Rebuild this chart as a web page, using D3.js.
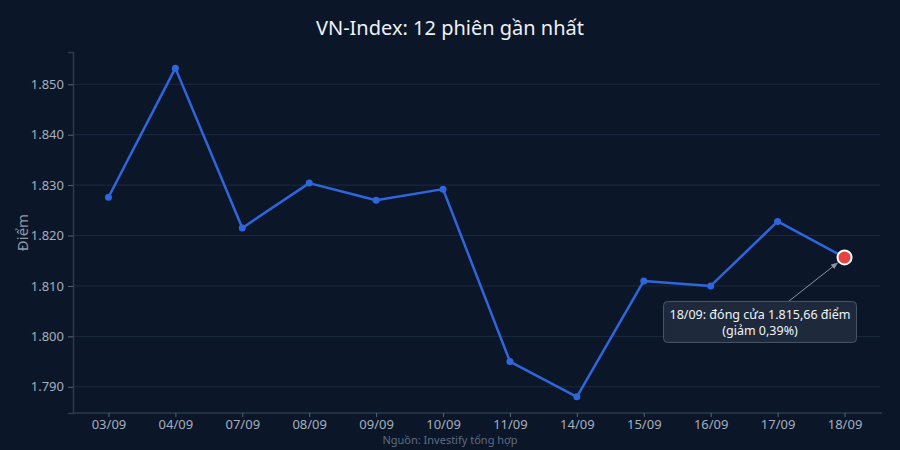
<!DOCTYPE html>
<html>
<head>
  <meta charset="utf-8" />
  <script src="https://cdn.jsdelivr.net/npm/d3@7"></script>
  <style>
    body {
      margin: 0;
      background-color: #0b1628;
    }
    text {
      font-family: "Noto Sans", "Open Sans", sans-serif;
    }
  </style>
</head>
<body>
  <script>
    // 12 phiên gần nhất
    var sessions = ["03/09", "04/09", "07/09", "08/09", "09/09", "10/09",
      "11/09", "14/09", "15/09", "16/09", "17/09", "18/09"];
    var closes = [1827.6, 1853.2, 1821.5, 1830.4, 1827.0, 1829.2,
      1795.0, 1788.0, 1811.0, 1810.0, 1822.8, 1815.66];
    var yTicks = [1790, 1800, 1810, 1820, 1830, 1840, 1850];
    var titleText = "VN-Index: 12 phiên gần nhất";
    var noteLines = ["18/09: đóng cửa 1.815,66 điểm", "(giảm 0,39%)"];
    var sourceText = "Nguồn: Investify tổng hợp";

    var width = 900, height = 450;
    var margin = { top: 52, right: 20, bottom: 37, left: 73 };

    var vn = d3.formatLocale({ decimal: ",", thousands: ".", grouping: [3], currency: ["", ""] });
    var fmt = vn.format(",.0f");

    var svg = d3.select("body").append("svg")
      .attr("width", width)
      .attr("height", height);

    var x = d3.scalePoint()
      .domain(sessions)
      .range([margin.left, width - margin.right])
      .padding(0.53);

    var y = d3.scaleLinear()
      .domain([1784.8, 1856.4])
      .range([height - margin.bottom, margin.top]);

    // grid
    svg.append("g")
      .selectAll("line")
      .data(yTicks)
      .enter()
      .append("line")
      .attr("x1", margin.left)
      .attr("x2", width - margin.right)
      .attr("y1", d => y(d))
      .attr("y2", d => y(d))
      .attr("stroke", "#1c2a40")
      .attr("stroke-width", 1);

    // y axis
    var yAxis = svg.append("g")
      .attr("transform", "translate(" + margin.left + ",0)")
      .call(d3.axisLeft(y).tickValues(yTicks).tickFormat(fmt).tickSize(5).tickPadding(4));

    // x axis
    var xAxis = svg.append("g")
      .attr("transform", "translate(0," + (height - margin.bottom) + ")")
      .call(d3.axisBottom(x).tickSize(4).tickPadding(3));

    [yAxis, xAxis].forEach(function(a) {
      a.select(".domain").attr("stroke", "#2c3b52").attr("stroke-width", 1.5);
      a.selectAll(".tick line").attr("stroke", "#56647a");
      a.selectAll(".tick text")
        .attr("fill", "#a4afbf")
        .style("font-size", "13px")
        .style("font-family", "'Noto Sans', sans-serif");
    });
    xAxis.select(".domain").attr("d", "M" + margin.left + ",0H" + (width - margin.right + 2));

    // y label
    svg.append("text")
      .attr("transform", "translate(28," + (height - margin.bottom + margin.top) / 2 + ") rotate(-90)")
      .attr("text-anchor", "middle")
      .attr("fill", "#8d98a8")
      .style("font-size", "15px")
      .text("Điểm");

    // line
    var pts = sessions.map((s, i) => [s, closes[i]]);
    var line = d3.line().x(d => x(d[0])).y(d => y(d[1]));

    svg.append("path")
      .datum(pts)
      .attr("fill", "none")
      .attr("stroke", "#2f66dd")
      .attr("stroke-width", 2.5)
      .attr("stroke-linejoin", "round")
      .attr("d", line);

    svg.append("g")
      .selectAll("circle")
      .data(pts.slice(0, -1))
      .enter()
      .append("circle")
      .attr("cx", d => x(d[0]))
      .attr("cy", d => y(d[1]))
      .attr("r", 3.5)
      .attr("fill", "#2f66dd");

    var last = pts[pts.length - 1];
    var lx = x(last[0]), ly = y(last[1]);

    // annotation arrow
    var defs = svg.append("defs");
    defs.append("marker")
      .attr("id", "arrow")
      .attr("viewBox", "0 0 10 10")
      .attr("refX", 9)
      .attr("refY", 5)
      .attr("markerWidth", 7)
      .attr("markerHeight", 7)
      .attr("orient", "auto")
      .append("path")
      .attr("d", "M0,1L10,5L0,9z")
      .attr("fill", "#8a94a3");

    var boxX = lx - 181, boxY = ly + 44, boxW = 193, boxH = 41;
    var ang = Math.atan2(boxY - ly, (boxX + 125) - lx);
    svg.append("line")
      .attr("x1", boxX + 125)
      .attr("y1", boxY)
      .attr("x2", lx + Math.cos(ang) * 9)
      .attr("y2", ly + Math.sin(ang) * 9)
      .attr("stroke", "#8a94a3")
      .attr("stroke-width", 1)
      .attr("marker-end", "url(#arrow)");

    svg.append("circle")
      .attr("cx", lx)
      .attr("cy", ly)
      .attr("r", 7)
      .attr("fill", "#e84141")
      .attr("stroke", "#ffffff")
      .attr("stroke-width", 2);

    svg.append("rect")
      .attr("x", boxX)
      .attr("y", boxY)
      .attr("width", boxW)
      .attr("height", boxH)
      .attr("rx", 4)
      .attr("fill", "#1e2a3b")
      .attr("stroke", "#4a5668")
      .attr("stroke-width", 1);

    svg.append("g")
      .selectAll("text")
      .data(noteLines)
      .enter()
      .append("text")
      .attr("x", boxX + boxW / 2)
      .attr("y", (d, i) => boxY + 18 + i * 16)
      .attr("text-anchor", "middle")
      .attr("fill", "#f0f3f7")
      .style("font-size", "12.5px")
      .text(d => d);

    // title
    svg.append("text")
      .attr("x", width / 2)
      .attr("y", 35)
      .attr("text-anchor", "middle")
      .attr("fill", "#eef2f7")
      .style("font-size", "20px")
      .text(titleText);

    // source
    svg.append("text")
      .attr("x", width / 2)
      .attr("y", 444)
      .attr("text-anchor", "middle")
      .attr("fill", "#5f6d82")
      .style("font-size", "11px")
      .text(sourceText);
  </script>
</body>
</html>
